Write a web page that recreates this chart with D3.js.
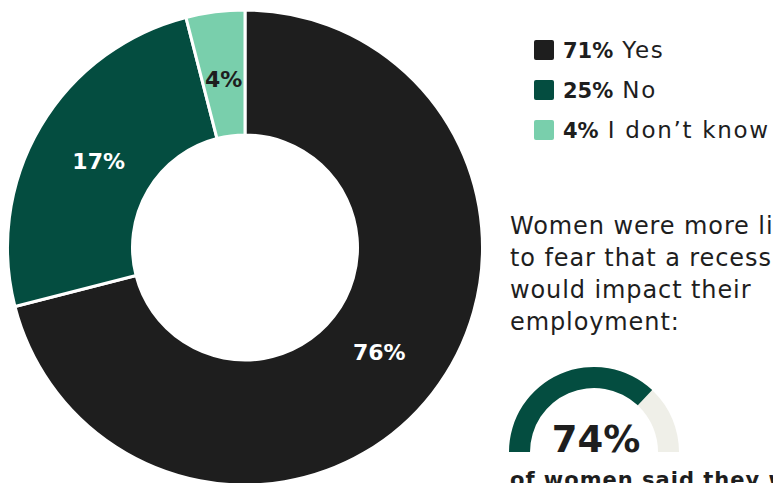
<!DOCTYPE html>
<html>
<head>
<meta charset="utf-8">
<script src="https://cdn.jsdelivr.net/npm/d3@7"></script>
<style>
  body { margin: 0; background: #fff; overflow: hidden; }
  svg { display: block; font-family: "DejaVu Sans", sans-serif; }
</style>
</head>
<body>
<div id="wrapper"></div>
<script>
// data
const categories = ["Yes", "No", "I don\u2019t know"];
const shares = [71, 25, 4];
const sliceLabels = ["76%", "17%", "4%"];
const colors = ["#1e1e1e", "#044d40", "#79cfac"];
const noteLines = ["Women were more likely", "to fear that a recession", "would impact their", "employment:"];
const gaugeValue = 74;
const gaugeCaption = "of women said they were worried";

const width = 773;
const height = 483;

const svg = d3.select("#wrapper")
  .append("svg")
  .attr("width", width)
  .attr("height", height);

// donut
const donut = svg.append("g").attr("transform", "translate(245, 247.5)");

const pie = d3.pie().sort(null).value((d) => d);
const arcs = pie(shares);

const arc = d3.arc().innerRadius(112.5).outerRadius(237.5);
const labelArc = d3.arc().innerRadius(170).outerRadius(170);

donut.selectAll(".slice")
  .data(arcs)
  .enter()
  .append("path")
  .attr("class", "slice")
  .attr("d", arc)
  .attr("fill", (d, i) => colors[i])
  .attr("stroke", "#fff")
  .attr("stroke-width", 3)
  .attr("stroke-linejoin", "round");

donut.selectAll(".slice-label")
  .data(arcs)
  .enter()
  .append("text")
  .attr("class", "slice-label")
  .attr("transform", (d) => `translate(${labelArc.centroid(d)})`)
  .attr("text-anchor", "middle")
  .attr("dy", "0.36em")
  .attr("font-size", 22)
  .attr("font-weight", 700)
  .attr("fill", (d, i) => (i === 2 ? "#1e1e1e" : "#fff"))
  .text((d, i) => sliceLabels[i]);

// legend
const legend = svg.append("g").attr("transform", "translate(534, 40)");
const rows = legend.selectAll(".row")
  .data(categories)
  .enter()
  .append("g")
  .attr("class", "row")
  .attr("transform", (d, i) => `translate(0, ${i * 40})`);

rows.append("rect")
  .attr("width", 20)
  .attr("height", 20)
  .attr("rx", 2)
  .attr("fill", (d, i) => colors[i]);

const rowText = rows.append("text")
  .attr("x", 29)
  .attr("y", 18)
  .attr("fill", "#1e1e1e");
rowText.append("tspan")
  .attr("font-size", 21)
  .attr("font-weight", 700)
  .text((d, i) => shares[i] + "%");
rowText.append("tspan")
  .attr("font-size", 23)
  .attr("letter-spacing", 1.7)
  .text((d) => " " + d);

// note
svg.append("g")
  .selectAll("text")
  .data(noteLines)
  .enter()
  .append("text")
  .attr("x", 510)
  .attr("y", (d, i) => 234 + i * 32)
  .attr("font-size", 24)
  .attr("letter-spacing", 0.9)
  .attr("fill", "#1e1e1e")
  .text((d) => d);

// gauge
const gauge = svg.append("g").attr("transform", "translate(594, 452)");
const angle = d3.scaleLinear().domain([0, 100]).range([-Math.PI / 2, Math.PI / 2]);
const gaugeArc = d3.arc().innerRadius(64).outerRadius(85);

gauge.append("path")
  .attr("d", gaugeArc({ startAngle: angle(0), endAngle: angle(100) }))
  .attr("fill", "#efefe8");
gauge.append("path")
  .attr("d", gaugeArc({ startAngle: angle(0), endAngle: angle(gaugeValue) }))
  .attr("fill", colors[1]);

gauge.append("text")
  .attr("text-anchor", "middle")
  .attr("x", 2)
  .attr("font-size", 37)
  .attr("font-weight", 700)
  .attr("fill", "#1e1e1e")
  .text(gaugeValue + "%");

svg.append("text")
  .attr("x", 510)
  .attr("y", 487)
  .attr("font-size", 21)
  .attr("font-weight", 700)
  .attr("letter-spacing", 1)
  .attr("fill", "#1e1e1e")
  .text(gaugeCaption);
</script>
</body>
</html>
